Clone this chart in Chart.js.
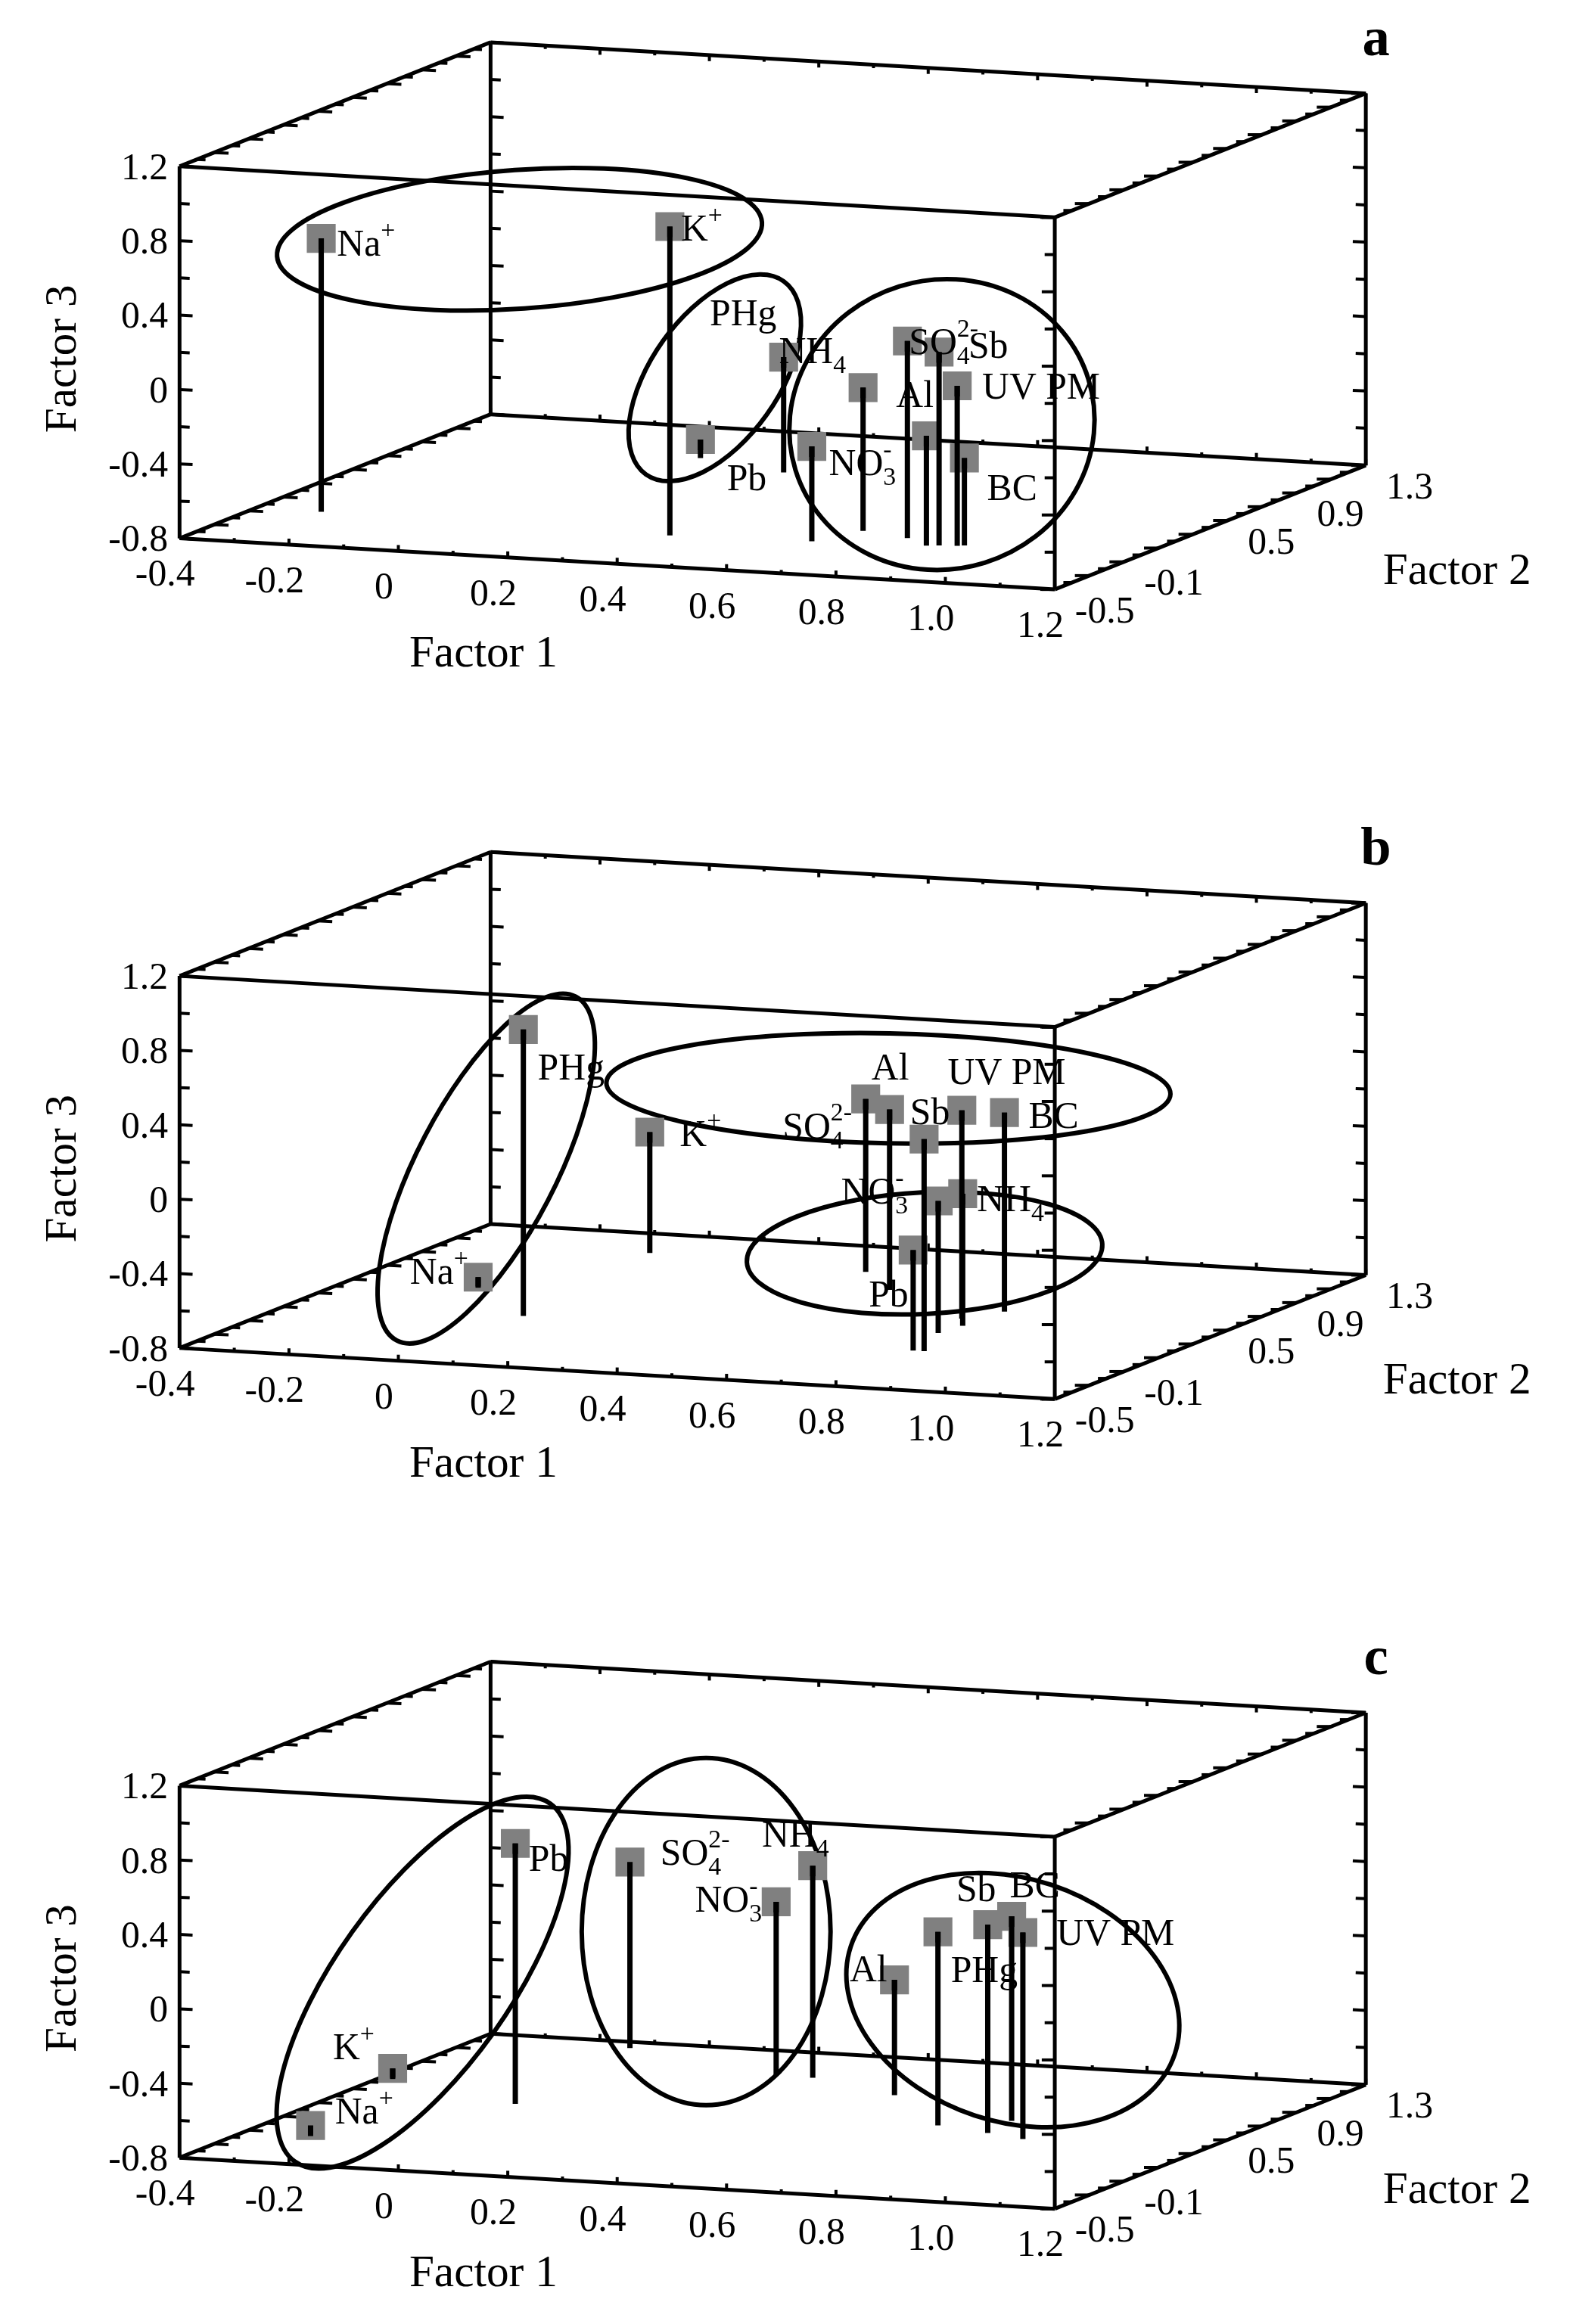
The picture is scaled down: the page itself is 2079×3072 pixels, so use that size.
<!DOCTYPE html>
<html><head><meta charset="utf-8">
<script src="https://cdn.jsdelivr.net/npm/chart.js@4.4.0/dist/chart.umd.min.js"></script>
<style>html,body{margin:0;padding:0;background:#fff}#wrap{width:2079px;height:3072px;position:relative}</style>
</head><body><div id="wrap"><canvas id="c"></canvas></div>
<script>
// ---- data (Factor 1, Factor 2, Factor 3 loadings) ----
const namesA = ["Na^{+}","K^{+}","PHg","Pb","NH_{4}","NO_{3}^{-}","SO_{4}^{2-}","Sb","UV PM","Al","BC"];
const f1A = [-0.28,0.37,0.30,0.11,0.66,0.62,0.76,0.84,0.87,0.82,0.88];
const f2A = [-0.06,-0.10,0.78,0.90,0.10,-0.07,0.04,-0.03,-0.02,-0.04,-0.01];
const f3A = [0.67,0.86,-0.18,-0.70,-0.03,-0.29,0.26,0.24,0.06,-0.21,-0.33];

const namesB = ["PHg","Na^{+}","K^{+}","Al","SO_{4}^{2-}","Sb","UV PM","BC","NO_{3}^{-}","NH_{4}","Pb"];
const f1B = [0.02,-0.17,-0.03,0.39,0.50,0.80,0.73,0.77,0.75,0.76,0.78];
const f2B = [0.16,0.50,1.05,0.97,0.76,0.01,0.45,0.57,0.25,0.36,0.01];
const f3B = [0.74,-0.75,-0.15,0.13,0.17,0.34,0.32,0.27,-0.09,-0.09,-0.26];

const namesC = ["Pb","SO_{4}^{2-}","NH_{4}","NO_{3}^{-}","Al","PHg","Sb","BC","UV PM","K^{+}","Na^{+}"];
const f1C = [-0.08,-0.12,0.29,0.22,0.49,0.68,0.79,0.78,0.87,-0.38,-0.29];
const f2C = [0.43,1.22,0.98,0.99,0.82,0.47,0.41,0.58,0.36,0.67,-0.09];
const f3C = [0.60,0.20,0.34,0.13,-0.18,0.24,0.32,0.30,0.31,-0.75,-0.76];

const f1Ticks = [-0.4,-0.2,0,0.2,0.4,0.6,0.8,1.0,1.2];
const f1TickLabels = ["-0.4","-0.2","0","0.2","0.4","0.6","0.8","1.0","1.2"];
const f2Ticks = [-0.5,-0.1,0.5,0.9,1.3];
const f2TickLabels = ["-0.5","-0.1","0.5","0.9","1.3"];
const f3Ticks = [-0.8,-0.4,0,0.4,0.8,1.2];
const f3TickLabels = ["-0.8","-0.4","0","0.4","0.8","1.2"];
const panelLetters = ["a","b","c"];

// ---- styling / layout (display units, 1 unit = 1.963 px) ----
const offsets = [0,555,1110];
const labelOff = [
 [[31,5],[22,3],[-28,-29],[32,28],[-35,-24],[35,13],[25,2],[34,-3],[58,2],[-8,-27],[33,22]],
 [[33,28],[-27,-2],[35,3],[17,-20],[-50,13],[4,-17],[31,-25],[34,4],[-44,-5],[33,5],[-17,32]],
 [[23,12],[45,-5],[-12,-20],[-33,0],[-18,-6],[32,28],[-8,-23],[16,-20],[64,2],[-27,-13],[37,-8]]
];
const ellipses = [
 [[345,150,168,48,-0.07],[480,245,44,82,0.62],[637,277,106,100,-0.3]],
 [[322,232,48,134,0.48],[600,177,195,38,0.02],[625,290,123,42,-0.05]],
 [[278,235,60,152,0.62],[474,200,86,120,0],[686,247,118,84,0.32]]
];
function proj(f1,f2,f3,off){
  const a=(f1+0.4)/1.6, b=(f2+0.5)/1.8, c=(f3+0.8)/2;
  return {x:110+605*a+215*b, y:off+355+35*a-85*b-255*c};
}
const panels=[[f1A,f2A,f3A,namesA],[f1B,f2B,f3B,namesB],[f1C,f2C,f3C,namesC]];
const datasets=[];
panels.forEach((p,pi)=>{
  const off=offsets[pi];
  const pts=p[0].map((v,i)=>proj(v,p[1][i],p[2][i],off));
  const stems=[];
  p[0].forEach((v,i)=>{stems.push(proj(v,p[1][i],p[2][i],off));stems.push(proj(v,p[1][i],-0.8,off));stems.push({x:null,y:null});});
  datasets.push({type:'line',data:stems,borderColor:'#000',borderWidth:7,pointRadius:0,spanGaps:false,order:1,clip:false});
  datasets.push({type:'scatter',data:pts,pointStyle:'rect',pointRadius:27,backgroundColor:'#808080',borderWidth:0,order:2,clip:false});
});
function drawRich(ctx,str,x,y,fs){
  const parts=[];const re=/(_\{([^}]*)\})|(\^\{([^}]*)\})|([^_^]+)/g;let m;
  while((m=re.exec(str))){ if(m[2]!==undefined)parts.push([m[2],'sub']); else if(m[4]!==undefined)parts.push([m[4],'sup']); else parts.push([m[5],'n']); }
  const sm=fs*0.68;
  const widths=parts.map(pt=>{ctx.font=(pt[1]==='n'?fs:sm)+'px "Liberation Serif"';return ctx.measureText(pt[0]).width;});
  let total=0;for(let i=0;i<parts.length;i++){ if(parts[i][1]==='sup'&&i>0&&parts[i-1][1]==='sub'){total+=Math.max(0,widths[i]-widths[i-1]);} else total+=widths[i]; }
  let cx=x-total/2;ctx.textBaseline='middle';ctx.textAlign='left';ctx.fillStyle='#000';
  for(let i=0;i<parts.length;i++){
    const pt=parts[i];
    if(pt[1]==='n'){ctx.font=fs+'px "Liberation Serif"';ctx.fillText(pt[0],cx,y);cx+=widths[i];}
    else if(pt[1]==='sub'){ctx.font=sm+'px "Liberation Serif"';ctx.fillText(pt[0],cx,y+fs*0.35);cx+=widths[i];}
    else {ctx.font=sm+'px "Liberation Serif"';let sx=cx;if(i>0&&parts[i-1][1]==='sub'){sx=cx-widths[i-1];cx=sx+Math.max(widths[i],widths[i-1]);}else cx+=widths[i];ctx.fillText(pt[0],sx,y-fs*0.38);}
  }
}
const deco={
  id:'deco',
  beforeDatasetsDraw(chart){
    const ctx=chart.ctx,xs=chart.scales.x,ys=chart.scales.y;
    const s=xs.getPixelForValue(1)-xs.getPixelForValue(0);
    const P=(pt)=>[xs.getPixelForValue(pt.x),ys.getPixelForValue(pt.y)];
    ctx.save();ctx.strokeStyle='#000';ctx.fillStyle='#000';ctx.lineCap='butt';
    offsets.forEach((off,pi)=>{
      const C=(a,b,c)=>P(proj(a,b,c,off));
      const X=[-0.4,1.2],Y=[-0.5,1.3],Z=[-0.8,1.2];
      const line=(p,q,w)=>{ctx.lineWidth=w;ctx.beginPath();ctx.moveTo(p[0],p[1]);ctx.lineTo(q[0],q[1]);ctx.stroke();};
      for(const b of Y)for(const c of Z)line(C(X[0],b,c),C(X[1],b,c),5);
      for(const a of X)for(const c of Z)line(C(a,Y[0],c),C(a,Y[1],c),5);
      for(const a of X)for(const b of Y)line(C(a,b,Z[0]),C(a,b,Z[1]),5);
      const tick=(p,dx,dy,len)=>{line(p,[p[0]+dx*len*s,p[1]+dy*len*s],4);};
      for(let k=0;k<=16;k++){const v=-0.4+k*0.1,L=k%2?4:7;
        tick(C(v,-0.5,-0.8),0,-1,L*0.6);tick(C(v,1.3,1.2),0,1,L*0.6);tick(C(v,1.3,-0.8),0,-1,L*0.6);}
      for(let k=0;k<=20;k++){const v=-0.8+k*0.1;if(k%2)continue;const L=k%4?7:9;
        tick(C(-0.4,-0.5,v),1,0.05,L);tick(C(-0.4,1.3,v),1,0.05,L);tick(C(1.2,1.3,v),-1,-0.05,L);tick(C(1.2,-0.5,v),-1,0,L);}
      for(let k=0;k<=18;k++){const v=-0.5+k*0.1,L=k%2?6:10;
        tick(C(1.2,v,-0.8),-1,0,L);tick(C(1.2,v,1.2),-1,0,L);tick(C(-0.4,v,1.2),1,0.05,L);tick(C(-0.4,v,-0.8),1,0.05,L);}
      ctx.font=(26*s)+'px "Liberation Serif"';ctx.textBaseline='middle';
      ctx.textAlign='right';
      f3Ticks.forEach((v,i)=>{const p=C(-0.4,-0.5,v);ctx.fillText(f3TickLabels[i],p[0]-8*s,p[1]+2*s);});
      ctx.textAlign='center';
      f1Ticks.forEach((v,i)=>{const p=C(v,-0.5,-0.8);ctx.fillText(f1TickLabels[i],p[0]-10*s,p[1]+26*s);});
      ctx.textAlign='left';
      f2Ticks.forEach((v,i)=>{const p=C(1.2,v,-0.8);ctx.fillText(f2TickLabels[i],p[0]+14*s,p[1]+16*s);});
      ctx.font=(31*s)+'px "Liberation Serif"';
      ctx.textAlign='center';
      let q=P({x:320,y:off+435});ctx.fillText('Factor 1',q[0],q[1]);
      q=P({x:993,y:off+378});ctx.fillText('Factor 2',q[0],q[1]);
      q=P({x:30,y:off+232});ctx.save();ctx.translate(q[0],q[1]);ctx.rotate(-Math.PI/2);ctx.fillText('Factor 3',0,0);ctx.restore();
      ctx.font='bold '+(38*s)+'px "Liberation Serif"';
      q=P({x:937,y:off+14});ctx.fillText(panelLetters[pi],q[0],q[1]);
      ctx.lineWidth=6;
      ellipses[pi].forEach(e=>{const c=P({x:e[0],y:off+e[1]});ctx.beginPath();ctx.ellipse(c[0],c[1],e[2]*s,e[3]*s,e[4],0,Math.PI*2);ctx.stroke();});
    });
    ctx.restore();
  },
  afterDatasetsDraw(chart){
    const ctx=chart.ctx,xs=chart.scales.x,ys=chart.scales.y;
    const s=xs.getPixelForValue(1)-xs.getPixelForValue(0);
    ctx.save();
    panels.forEach((p,pi)=>{
      p[0].forEach((v,i)=>{
        const pt=proj(v,p[1][i],p[2][i],offsets[pi]);
        const x=xs.getPixelForValue(pt.x),y=ys.getPixelForValue(pt.y);
        ctx.fillStyle='#000';ctx.fillRect(x-3.5,y,7,14);
        drawRich(ctx,p[3][i],x+labelOff[pi][i][0]*s,y+labelOff[pi][i][1]*s,26*s);
      });
    });
    ctx.restore();
  }
};
new Chart(document.getElementById('c'),{
  type:'scatter',
  data:{datasets},
  options:{responsive:true,maintainAspectRatio:false,devicePixelRatio:1,animation:false,
    layout:{padding:0},
    plugins:{legend:{display:false},tooltip:{enabled:false}},
    scales:{x:{type:'linear',min:0,max:1059.1,display:false},y:{type:'linear',min:0,max:1565,reverse:true,display:false}}},
  plugins:[deco]
});
</script></body></html>
